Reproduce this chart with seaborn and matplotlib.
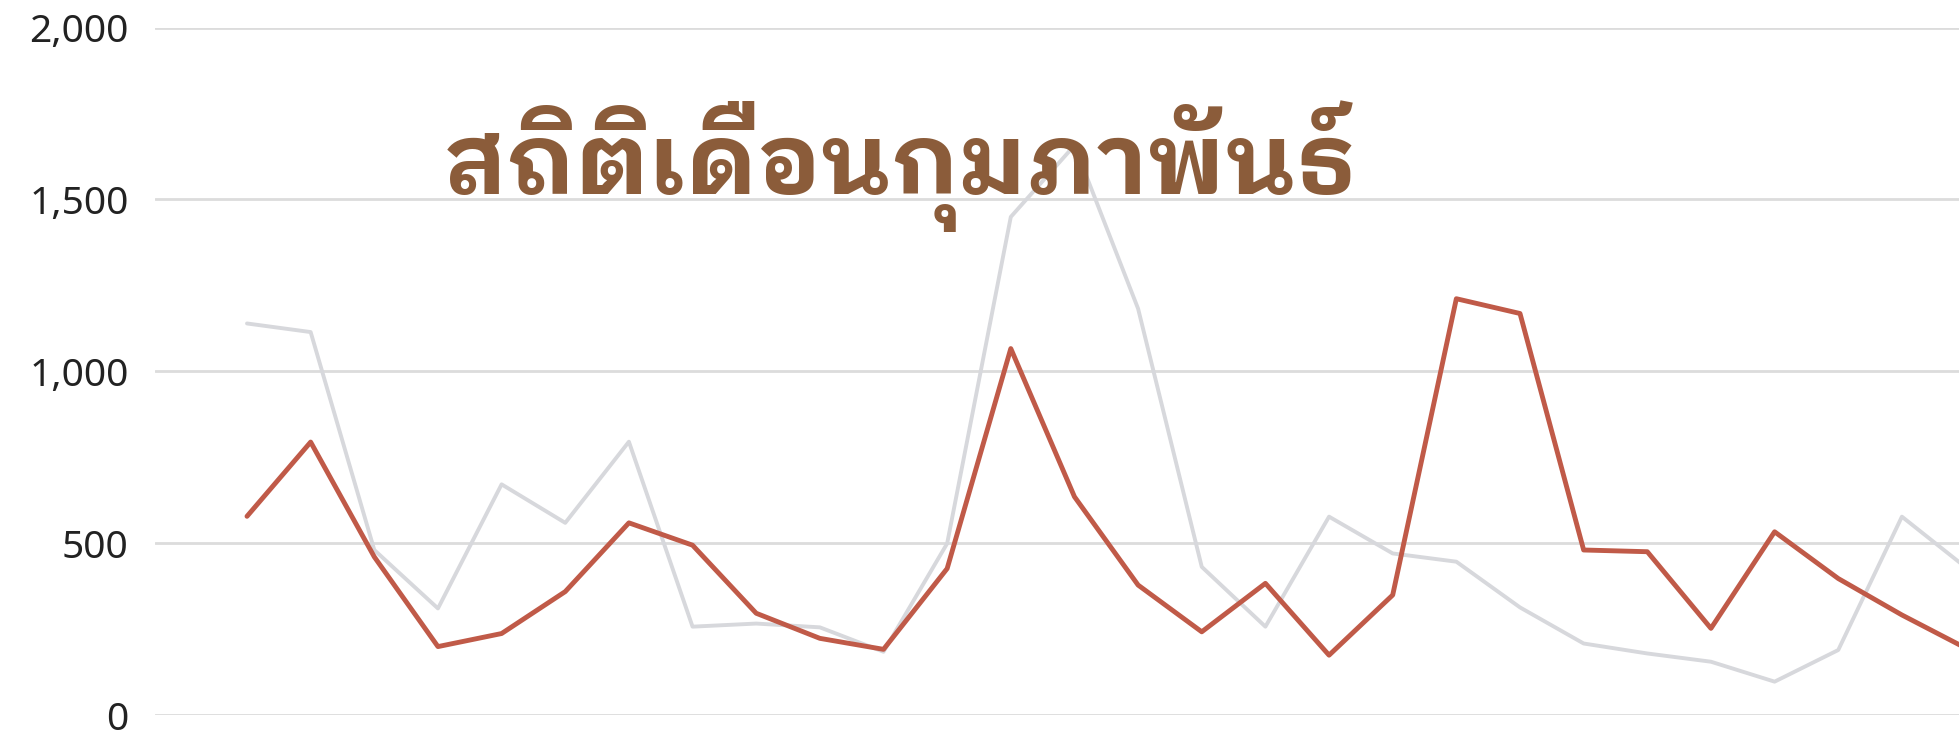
import seaborn as sns
import numpy as np
import pandas as pd
from matplotlib import pyplot as plt
from matplotlib import font_manager
from matplotlib.ticker import FuncFormatter


## DATA

days = list(range(1, 29))
series_names = ['ปีที่แล้ว', 'ปีนี้']
prev_values = [1139, 1114, 480, 310, 671, 559, 795, 257, 266, 255, 184, 499, 1449, 1657,
               1182, 431, 257, 577, 470, 446, 313, 208, 179, 155, 97, 189, 577, 430]
curr_values = [578, 794, 460, 199, 237, 359, 559, 494, 296, 223, 191, 426, 1066, 635,
               378, 242, 383, 174, 349, 1211, 1168, 480, 475, 252, 533, 397, 291, 195]
y_ticks = [0, 500, 1000, 1500, 2000]
title = 'สถิติเดือนกุมภาพันธ์'


## FONT WITH THAI GLYPHS (prefer a bold, condensed one)

def find_thai_font():
    try:
        from fontTools.ttLib import TTFont
    except ImportError:
        return None
    found = []
    for path in font_manager.findSystemFonts():
        try:
            f = TTFont(path, fontNumber=0, lazy=True)
            cmap = f.getBestCmap() or {}
        except Exception:
            continue
        if ord('ส') in cmap and ord('ุ') in cmap:
            low = path.lower().replace('-', '').replace('_', '')
            score = 0
            if 'thai' in low:
                score += 4
            if 'bold' in low and 'extrabold' not in low and 'semibold' not in low:
                score += 3
            elif 'semibold' in low or 'extrabold' in low:
                score += 1
            if 'extracondensed' in low:
                score += 3
            elif 'semicondensed' in low:
                score += 1
            elif 'condensed' in low:
                score += 2
            if 'looped' in low:
                score += 1
            if 'italic' in low:
                score -= 5
            found.append((score, path))
    if not found:
        return None
    found.sort(reverse=True)
    return found[0][1]

thai_path = find_thai_font()


## TABLE

df = pd.DataFrame({
    'day': days * 2,
    'value': prev_values + curr_values,
    'series': [series_names[0]] * len(days) + [series_names[1]] * len(days),
})

sns.set_style('white')
plt.rcParams['font.family'] = ['Noto Sans', 'DejaVu Sans']

W, H = 1959, 735
fig = plt.figure(figsize=(W / 100, H / 100), dpi=100)
ax = fig.add_axes([155 / W, 20 / H, 1 - 155 / W, 687.5 / H])

for yv in y_ticks:
    ax.axhline(yv, color='#dcdcdc', lw=2.0, zorder=0)

sns.lineplot(data=df[df.series == series_names[0]], x='day', y='value',
             color='#d7d8dc', linewidth=2.8, ax=ax, legend=False,
             estimator=None, sort=False)
sns.lineplot(data=df[df.series == series_names[1]], x='day', y='value',
             color='#c05a48', linewidth=3.5, ax=ax, legend=False,
             estimator=None, sort=False)

# first day at x=247px, spacing ~63.65px
step = 63.65
ax.set_xlim(1 - (247 - 155) / step, 1 + (W - 247) / step)
ax.set_ylim(0, 2000)
ax.set_yticks(y_ticks)
ax.yaxis.set_major_formatter(FuncFormatter(lambda v, p: f'{int(v):,}'))
ax.set_xticks([])
ax.set_xlabel('')
ax.set_ylabel('')
ax.tick_params(axis='y', length=0, pad=19, labelsize=28, labelcolor='#222222')
for s in ax.spines.values():
    s.set_visible(False)


## TITLE

if thai_path:
    tprops = font_manager.FontProperties(fname=thai_path, weight='bold')
else:
    tprops = font_manager.FontProperties(family='DejaVu Sans', weight='bold')
tprops.set_size(90)
t = fig.text(444 / W, 1 - 194 / H, title, fontproperties=tprops,
             color='#8b5c3a', ha='left', va='baseline')
fig.canvas.draw()
bb = t.get_window_extent()
tprops.set_size(90 * 912 / bb.width)
t.set_fontproperties(tprops)

plt.savefig('out.png', dpi=100)
